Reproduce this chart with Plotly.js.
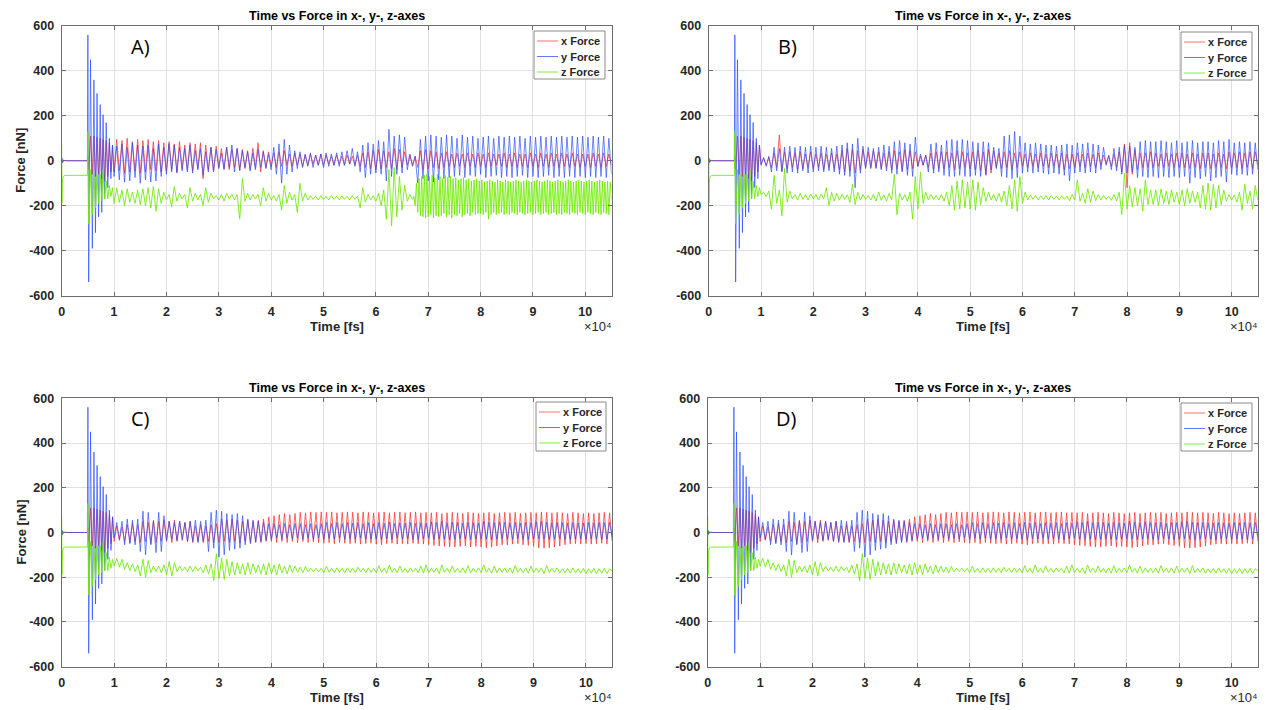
<!DOCTYPE html>
<html>
<head>
<meta charset="utf-8">
<script src="https://cdn.plot.ly/plotly-3.0.1.min.js"></script>
<style>html,body{margin:0;padding:0;background:#fff;}#chart{width:1267px;height:710px;}</style>
</head>
<body>
<div id="chart"></div>
<script>
// ---- DATA (time in units of 10^4 fs, force in nN) ----
// shared start-up transient (identical in all four runs)
const tEarly  = [0, 0.005, 0.012, 0.02, 0.03, 0.05, 0.1, 0.3, 0.49, 0.5, 0.515, 0.55, 0.585, 0.615, 0.645, 0.675, 0.705, 0.735, 0.765, 0.79, 0.82, 0.85, 0.88, 0.91, 0.94, 0.97];
const fxEarly = [0, 3, -3, 2, -1, 0, 0, 0, 0, 20, -40, 110, -60, 110, -70, 105, -60, 100, -80, 95, -90, 90, -70, 80, -50, 70];
const fyEarly = [0, 12, -10, 6, -4, 2, 0, 0, 0, 560, -540, 450, -390, 360, -320, 300, -250, 250, -230, 205, -170, 170, -120, 100, -80, 70];
const fzEarly = [70, -190, -100, -80, -70, -66, -65, -65, -65, 130, -280, -40, -240, -60, -210, -60, -190, -60, -180, -40, -170, -90, -170, -110, -160, -120];

// later samples start at t = 1.00 with step 0.05 (rows of 0.5)
const lateStart = 1.0, lateStep = 0.05;

const fxA = [
 -50,95,-45,90,-55,100,-50,85,-45,95,
 -55,90,-50,95,-40,85,-45,90,-50,80,
 -45,85,-40,75,-50,85,-35,70,-40,80,
 -45,75,-35,80,-80,70,-40,60,-50,65,
 -30,55,-35,60,-40,50,-30,55,-45,50,
 -35,45,-40,55,-30,80,-50,45,-30,40,
 -25,35,-30,40,-25,45,-20,30,-25,35,
 -20,30,-25,25,-20,30,-15,25,-20,30,
 -20,25,-15,20,-20,25,-15,20,-20,25,
 -15,20,-20,25,-25,35,-30,40,-35,45,
 -40,50,-35,45,-30,40,-35,55,-40,50,
 -30,40,-20,30,-25,20,-30,45,-40,50,
 -35,45,-30,40,-35,35,-30,40,-25,30,
 -30,35,-25,30,-30,35,-25,30,-30,35,
 -25,30,-30,35,-25,30,-20,30,-25,35,
 -30,30,-25,35,-30,30,-25,30,-30,35,
 -25,30,-30,35,-25,30,-30,35,-25,30,
 -30,35,-25,30,-30,35,-25,30,-30,30,
 -25,30,-30,35,-25,30,-30,35,-25,30,
 -20];
const fyA = [
 -70,65,-85,75,-95,60,-90,80,-75,70,
 -100,65,-85,70,-95,55,-90,75,-70,60,
 -60,75,-50,70,-55,60,-45,55,-50,70,
 -55,45,-40,55,-65,40,-50,60,-45,50,
 -35,35,-40,60,-30,70,-50,55,-40,45,
 -30,40,-45,35,-40,50,-30,40,-35,30,
 -40,60,-60,75,-100,95,-60,70,-50,45,
 -35,40,-30,30,-25,35,-30,25,-20,30,
 -30,35,-25,30,-20,35,-25,40,-20,45,
 -15,55,-25,40,-50,70,-75,80,-60,75,
 -55,90,-60,85,-90,140,-70,110,-60,115,
 -55,105,-40,25,-20,20,-100,95,-80,110,
 -90,115,-95,110,-85,105,-80,115,-75,110,
 -70,100,-65,115,-75,105,-65,110,-70,100,
 -60,105,-75,110,-70,100,-65,110,-75,105,
 -70,110,-75,105,-70,110,-65,100,-75,110,
 -70,105,-75,110,-70,105,-65,110,-75,105,
 -70,110,-75,105,-70,110,-75,105,-70,110,
 -75,105,-70,110,-75,105,-70,110,-75,100,
 -60];
// z force, run A: coarse part 1.00 .. 6.70
const fzA = [
 -190,-120,-185,-130,-200,-125,-185,-140,-190,-130,
 -195,-125,-200,-120,-210,-115,-225,-125,-190,-140,
 -175,-150,-205,-115,-180,-145,-170,-150,-210,-120,
 -180,-145,-175,-150,-200,-120,-185,-145,-170,-155,
 -175,-150,-180,-145,-170,-150,-175,-150,-260,-80,
 -180,-145,-175,-150,-170,-150,-200,-120,-180,-145,
 -175,-155,-180,-150,-220,-110,-190,-140,-175,-150,
 -230,-100,-180,-145,-175,-155,-172,-158,-175,-155,
 -172,-158,-175,-155,-172,-158,-174,-156,-172,-158,
 -175,-155,-172,-158,-210,-120,-185,-150,-175,-155,
 -180,-145,-200,-130,-260,-40,-290,-30,-250,-70,
 -220,-110,-180,-150,-172];
// z force, run A: dense part from 6.725 with step 0.025 (rows of 0.25)
const fzAFineStart = 6.725, fzAFineStep = 0.025;
const fzAFine = [
 -158,-200,-100,-230,-80,-245,-70,-250,-65,-255,
 -60,-250,-70,-240,-65,-255,-75,-245,-60,-250,
 -70,-245,-80,-235,-65,-250,-75,-240,-70,-255,
 -80,-240,-75,-245,-85,-235,-80,-250,-75,-240,
 -85,-235,-80,-245,-90,-230,-85,-240,-80,-235,
 -90,-235,-85,-240,-95,-230,-90,-260,-85,-240,
 -90,-230,-95,-240,-85,-235,-90,-230,-95,-240,
 -85,-235,-90,-240,-95,-230,-90,-235,-85,-240,
 -90,-230,-95,-235,-90,-240,-85,-235,-90,-230,
 -95,-240,-90,-235,-85,-230,-90,-240,-95,-235,
 -90,-230,-85,-240,-90,-235,-95,-230,-90,-240,
 -85,-235,-90,-240,-95,-230,-90,-235,-85,-240,
 -90,-230,-95,-235,-90,-240,-85,-230,-90,-235,
 -95,-240,-90,-230,-85,-235,-90,-240,-95,-230,
 -90,-235,-85,-240,-90,-230,-95,-235,-90,-240,
 -95,-170];

const fxB = [
 -15,10,-20,15,-30,35,-30,115,-45,40,
 -35,40,-30,35,-40,40,-35,30,-30,40,
 -35,30,-30,35,-40,30,-30,35,-35,30,
 -40,45,-50,55,-45,50,-55,45,-40,50,
 -30,40,-35,45,-30,40,-35,35,-30,40,
 -40,45,-35,40,-45,50,-40,45,-35,40,
 -25,20,-20,25,-30,35,-40,40,-35,40,
 -35,40,-30,35,-40,45,-35,40,-30,35,
 -35,40,-40,45,-45,40,-60,50,-55,45,
 -30,35,-35,40,-30,45,-40,35,-30,40,
 -25,30,-30,35,-25,30,-30,35,-25,30,
 -30,35,-25,30,-30,35,-40,30,-35,30,
 -30,35,-25,30,-30,35,-25,30,-30,35,
 -20,25,-15,20,-25,30,-30,40,-50,75,
 -120,80,-60,50,-40,35,-30,35,-30,40,
 -30,35,-25,30,-30,35,-25,30,-30,35,
 -30,35,-30,30,-35,35,-30,30,-35,35,
 -30,35,-35,30,-30,35,-30,30,-35,40,
 -30,35,-30,40,-35,35,-30,40,-35,40,
 -20];
const fyB = [
 -20,15,-25,20,-50,60,-45,55,-50,60,
 -55,65,-50,60,-55,65,-45,60,-55,65,
 -50,60,-45,65,-50,60,-45,55,-50,65,
 -60,70,-65,80,-70,75,-120,100,-55,65,
 -35,60,-30,55,-35,60,-40,70,-45,65,
 -55,85,-60,90,-50,80,-65,75,-70,105,
 -25,30,-20,25,-50,75,-55,80,-50,70,
 -65,90,-70,95,-70,90,-65,95,-70,90,
 -70,85,-65,80,-70,85,-65,80,-40,60,
 -35,55,-70,110,-75,115,-80,130,-75,110,
 -55,80,-50,75,-55,80,-50,75,-55,70,
 -60,70,-55,65,-60,70,-65,75,-90,70,
 -55,80,-50,75,-55,80,-50,75,-55,70,
 -40,60,-20,25,-40,55,-45,60,-60,70,
 -55,65,-50,60,-75,85,-70,90,-75,85,
 -70,85,-75,90,-70,85,-75,80,-70,90,
 -75,80,-70,85,-100,90,-75,80,-80,85,
 -70,85,-90,80,-75,90,-70,85,-95,95,
 -60,80,-65,85,-60,80,-65,85,-60,80,
 -40];
const fzB = [
 -150,-140,-160,-135,-215,-65,-190,-130,-245,-35,
 -185,-135,-170,-150,-175,-145,-172,-150,-175,-148,
 -170,-150,-175,-148,-170,-120,-200,-140,-180,-145,
 -175,-150,-172,-152,-185,-105,-195,-140,-175,-150,
 -172,-155,-175,-150,-180,-140,-176,-152,-180,-145,
 -175,-60,-240,-145,-175,-150,-180,-140,-260,-70,
 -215,-50,-190,-140,-175,-150,-172,-155,-175,-150,
 -180,-140,-200,-110,-220,-90,-215,-85,-210,-95,
 -215,-85,-220,-95,-195,-120,-180,-140,-175,-150,
 -180,-145,-185,-135,-200,-110,-215,-85,-225,-70,
 -190,-140,-175,-152,-172,-155,-174,-156,-172,-155,
 -175,-155,-172,-158,-174,-156,-172,-158,-178,-150,
 -175,-85,-180,-145,-190,-125,-185,-135,-178,-150,
 -175,-155,-172,-158,-176,-150,-180,-140,-240,-55,
 -215,-110,-205,-120,-200,-125,-225,-85,-195,-130,
 -195,-130,-200,-125,-190,-135,-195,-130,-185,-140,
 -195,-130,-200,-125,-190,-135,-185,-140,-210,-110,
 -215,-100,-220,-105,-210,-110,-195,-130,-180,-150,
 -175,-152,-185,-140,-220,-105,-190,-135,-215,-110,
 -175];

const fxC = [
 -40,30,-35,25,-40,35,-45,40,-40,35,
 -45,50,-40,45,-50,55,-45,50,-40,55,
 -40,50,-45,55,-40,50,-35,45,-40,50,
 -45,30,-40,35,-45,30,-40,35,-45,40,
 -45,60,-40,55,-45,60,-40,55,-45,50,
 -40,55,-45,50,-40,55,-45,60,-40,70,
 -40,75,-45,80,-40,85,-45,80,-40,85,
 -45,90,-40,88,-45,92,-42,90,-45,92,
 -48,90,-45,92,-50,88,-45,90,-48,92,
 -50,90,-48,88,-52,92,-50,90,-48,88,
 -52,90,-55,92,-50,88,-48,90,-52,92,
 -50,88,-52,90,-48,92,-50,88,-52,90,
 -55,88,-58,90,-60,85,-62,88,-65,90,
 -65,88,-62,85,-60,90,-65,88,-62,85,
 -65,88,-68,90,-65,85,-60,88,-55,90,
 -55,88,-52,90,-50,85,-55,88,-58,90,
 -62,88,-68,92,-70,90,-68,88,-65,90,
 -60,88,-55,85,-52,90,-50,88,-52,85,
 -50,88,-52,85,-50,88,-48,90,-52,88,
 -40];
const fyC = [
 -25,45,-30,50,-55,60,-50,55,-55,60,
 -85,95,-100,90,-55,50,-90,90,-85,75,
 -35,50,-30,45,-35,50,-30,45,-40,50,
 -40,55,-45,50,-40,55,-85,90,-70,100,
 -110,95,-100,85,-80,80,-75,85,-70,75,
 -55,60,-50,55,-45,50,-40,45,-35,40,
 -30,40,-25,35,-30,40,-25,35,-30,40,
 -25,40,-30,35,-25,40,-30,35,-25,40,
 -30,45,-25,40,-30,45,-25,40,-30,45,
 -28,42,-30,45,-25,40,-30,44,-28,40,
 -30,45,-32,42,-28,46,-30,40,-25,44,
 -30,42,-28,45,-30,40,-32,44,-28,42,
 -25,48,-30,45,-28,50,-30,44,-32,46,
 -30,45,-28,42,-30,46,-32,44,-30,42,
 -28,50,-30,46,-32,44,-30,48,-28,45,
 -30,44,-32,46,-28,42,-30,45,-32,44,
 -30,48,-28,50,-30,46,-32,44,-30,45,
 -28,44,-30,42,-32,45,-30,44,-28,42,
 -30,45,-28,44,-30,46,-32,44,-30,45,
 -20];
const fzC = [
 -150,-115,-155,-120,-165,-135,-170,-140,-175,-145,
 -195,-120,-200,-125,-180,-150,-175,-150,-180,-145,
 -190,-130,-195,-135,-175,-150,-172,-155,-175,-150,
 -175,-152,-172,-155,-180,-145,-185,-140,-215,-95,
 -205,-115,-210,-120,-195,-130,-190,-135,-185,-140,
 -190,-135,-185,-140,-180,-145,-185,-140,-190,-135,
 -185,-145,-190,-140,-180,-150,-185,-145,-180,-150,
 -178,-155,-180,-152,-176,-160,-175,-160,-176,-160,
 -180,-150,-178,-160,-180,-158,-178,-160,-180,-158,
 -178,-160,-180,-155,-176,-160,-180,-158,-178,-160,
 -180,-148,-178,-160,-182,-145,-178,-160,-180,-150,
 -178,-160,-180,-158,-176,-160,-180,-150,-182,-145,
 -180,-160,-178,-158,-184,-145,-178,-160,-180,-150,
 -178,-160,-180,-158,-182,-148,-180,-160,-178,-158,
 -180,-145,-178,-160,-182,-150,-180,-158,-178,-160,
 -180,-158,-182,-148,-178,-160,-180,-158,-182,-150,
 -180,-160,-178,-158,-184,-148,-180,-160,-178,-158,
 -182,-162,-180,-160,-182,-158,-180,-162,-182,-160,
 -184,-162,-182,-160,-184,-162,-182,-160,-184,-162,
 -172];

// run D reads the same as run C
const fxD = fxC.slice(), fyD = fyC.slice(), fzD = fzC.slice();

const panelLabels = ["A)", "B)", "C)", "D)"];
const seriesNames = ["x Force", "y Force", "z Force"];
const xTicks = [0,1,2,3,4,5,6,7,8,9,10];
const yTicks = [-600,-400,-200,0,200,400,600];
const chartTitle = "Time vs Force in x-, y-, z-axes";
const xTitle = "Time [fs]", yTitle = "Force [nN]", xExponent = "×10⁴";

// ---- BUILD ----
const W = 1267, H = 710;
const grid = (start, step, n) => Array.from({length: n}, (_, i) => +(start + i * step).toFixed(4));
// each series is a list of segments: [times, values]
function seriesXY(segs) {
  const x = [], y = [];
  segs.forEach(([t, v]) => { for (let i = 0; i < v.length; i++) { x.push(t[i]); y.push(v[i]); } });
  return {x, y};
}
const lateSeg = v => [grid(lateStart, lateStep, v.length), v];
const early = v => [tEarly, v];

const panels = [
  {s: [[early(fxEarly), lateSeg(fxA)], [early(fyEarly), lateSeg(fyA)],
       [early(fzEarly), lateSeg(fzA), [grid(fzAFineStart, fzAFineStep, fzAFine.length), fzAFine]]],
   px: [61.7, 611.5], py: [26, 295.5], leg: [534, 31, 605, 79]},
  {s: [[early(fxEarly), lateSeg(fxB)], [early(fyEarly), lateSeg(fyB)], [early(fzEarly), lateSeg(fzB)]],
   px: [708.7, 1257.8], py: [26, 295.5], leg: [1181, 32, 1252, 80]},
  {s: [[early(fxEarly), lateSeg(fxC)], [early(fyEarly), lateSeg(fyC)], [early(fzEarly), lateSeg(fzC)]],
   px: [61.7, 612.2], py: [398.3, 666.7], leg: [536, 402, 606, 451]},
  {s: [[early(fxEarly), lateSeg(fxD)], [early(fyEarly), lateSeg(fyD)], [early(fzEarly), lateSeg(fzD)]],
   px: [707.7, 1257.9], py: [398.3, 666.7], leg: [1181, 403, 1252, 451]}
];
const colors = ["rgba(255,45,45,0.72)", "rgba(35,70,255,0.66)", "rgba(110,235,0,0.85)"];
const legColors = ["rgb(255,110,110)", "rgb(100,120,255)", "rgb(130,240,60)"];
const FONT = "Liberation Sans, Arial, sans-serif";

const traces = [];
const layout = {
  width: W, height: H,
  margin: {l: 0, r: 0, t: 0, b: 0},
  paper_bgcolor: "#ffffff", plot_bgcolor: "#ffffff",
  showlegend: false,
  annotations: [], shapes: [], font: {family: FONT, color: "#262626"}
};
const px2x = v => v / W, px2y = v => 1 - v / H;

panels.forEach((p, k) => {
  const n = k + 1;
  const xa = "x" + (n === 1 ? "" : n), ya = "y" + (n === 1 ? "" : n);
  p.s.forEach((segs, s) => {
    const d = seriesXY(segs);
    traces.push({
      type: "scatter", mode: "lines", x: d.x, y: d.y, name: seriesNames[s],
      xaxis: xa, yaxis: ya, showlegend: false,
      line: {color: colors[s], width: 1}, hoverinfo: "skip"
    });
  });
  const axCommon = {
    showgrid: true, gridcolor: "#e0e0e0", gridwidth: 1,
    zeroline: false, showline: true, linecolor: "#6e6e6e", linewidth: 1,
    mirror: "ticks", ticks: "inside", ticklen: 4, tickcolor: "#6e6e6e",
    tickfont: {family: FONT, size: 12.5, weight: "bold", color: "#262626"},
    fixedrange: true
  };
  layout["xaxis" + (n === 1 ? "" : n)] = Object.assign({}, axCommon, {
    domain: [px2x(p.px[0]), px2x(p.px[1])], anchor: ya,
    range: [0, 10.5], tickvals: xTicks, ticktext: xTicks.map(String),
    ticklabelstandoff: 4
  });
  layout["yaxis" + (n === 1 ? "" : n)] = Object.assign({}, axCommon, {
    domain: [px2y(p.py[1]), px2y(p.py[0])], anchor: xa,
    range: [-600, 600], tickvals: yTicks, ticktext: yTicks.map(String),
    ticklabelstandoff: 4
  });

  // legend box (drawn by hand so all four look identical)
  const [lx0, ly0, lx1, ly1] = p.leg;
  layout.shapes.push({type: "rect", xref: "paper", yref: "paper",
    x0: px2x(lx0), x1: px2x(lx1), y0: px2y(ly1), y1: px2y(ly0),
    fillcolor: "#ffffff", line: {color: "#8a8a8a", width: 1}, layer: "above"});
  seriesNames.forEach((nm, s) => {
    const yy = ly0 + 10 + s * 15.5;
    layout.shapes.push({type: "line", xref: "paper", yref: "paper",
      x0: px2x(lx0 + 3), x1: px2x(lx0 + 24), y0: px2y(yy), y1: px2y(yy),
      line: {color: legColors[s], width: 1}, layer: "above"});
    layout.annotations.push({text: nm, x: px2x(lx0 + 25), y: px2y(yy), xref: "paper", yref: "paper",
      showarrow: false, xanchor: "left", yanchor: "middle",
      font: {family: FONT, size: 11, weight: "bold", color: "#262626"}});
  });

  const cx = (p.px[0] + p.px[1]) / 2;
  layout.annotations.push(
    {text: chartTitle, x: px2x(cx), y: px2y(p.py[0] - 10), xref: "paper", yref: "paper",
     showarrow: false, xanchor: "center", yanchor: "middle",
     font: {family: FONT, size: 12.5, weight: "bold", color: "#000"}},
    {text: xTitle, x: px2x(cx), y: px2y(p.py[1] + 31), xref: "paper", yref: "paper",
     showarrow: false, xanchor: "center", yanchor: "middle",
     font: {family: FONT, size: 13, weight: "bold", color: "#262626"}},
    {text: xExponent, x: px2x(p.px[1] - 14), y: px2y(p.py[1] + 31), xref: "paper", yref: "paper",
     showarrow: false, xanchor: "center", yanchor: "middle",
     font: {family: FONT, size: 13, color: "#262626"}},
    {text: panelLabels[k], x: px2x(p.px[0] + 79), y: px2y(p.py[0] + 20), xref: "paper", yref: "paper",
     showarrow: false, xanchor: "center", yanchor: "middle",
     font: {family: "Open Sans, Liberation Sans, sans-serif", size: 20, color: "#000"}}
  );
  if (k === 0 || k === 2) {
    layout.annotations.push({
      text: yTitle, x: px2x(21), y: px2y((p.py[0] + p.py[1]) / 2), xref: "paper", yref: "paper",
      showarrow: false, textangle: -90, xanchor: "center", yanchor: "middle",
      font: {family: FONT, size: 13, weight: "bold", color: "#262626"}
    });
  }
});

Plotly.newPlot("chart", traces, layout, {staticPlot: true, displayModeBar: false});
</script>
</body>
</html>
